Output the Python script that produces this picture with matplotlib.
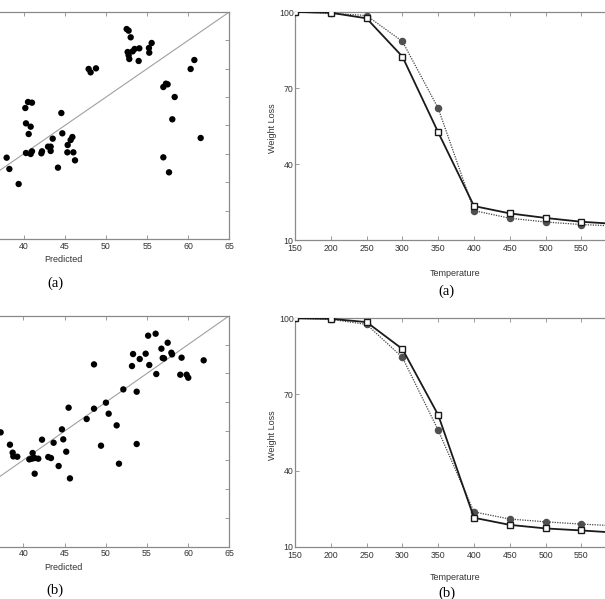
import matplotlib
matplotlib.use("Agg")
import matplotlib.pyplot as plt
import numpy as np

plt.rcParams['font.family'] = ['Liberation Sans', 'DejaVu Sans']

# ---------------- data ----------------
pred_a = [37.93, 38.26, 39.39, 40.20, 40.53, 41.01, 40.28, 40.85, 40.61, 40.28,
          40.85, 41.01, 42.15, 42.23, 42.96, 43.28, 43.28, 43.53, 44.58, 44.70,
          44.17, 45.35, 45.31, 45.71, 45.92, 46.04, 46.24, 47.90, 48.14, 48.79,
          52.52, 52.76, 53.01, 52.64, 52.76, 52.84, 53.25, 53.49, 54.06, 53.98,
          55.23, 55.27, 55.56, 56.98, 57.30, 57.50, 58.36, 58.07, 56.98, 57.67,
          60.30, 60.75, 61.52]
act_a = [39.33, 37.34, 34.69, 48.08, 49.14, 49.02, 45.38, 44.79, 43.50, 40.15,
         39.98, 40.45, 40.10, 40.45, 41.27, 41.27, 40.51, 42.68, 47.20, 43.62,
         37.57, 41.56, 40.27, 42.44, 42.97, 40.27, 38.86, 54.96, 54.37, 55.07,
         62.00, 61.71, 60.54, 57.95, 57.36, 56.72, 58.07, 58.48, 58.60, 56.37,
         58.66, 57.83, 59.54, 51.78, 52.37, 52.25, 50.02, 46.09, 39.39, 36.75,
         54.96, 56.54, 42.80]

pred_b = [37.25, 38.38, 38.71, 38.79, 39.27, 40.73, 41.05, 41.13, 41.38, 41.82,
          41.38, 42.27, 43.03, 43.36, 43.68, 44.29, 44.69, 44.85, 45.21, 45.50,
          45.66, 47.69, 48.58, 48.58, 49.43, 50.03, 50.36, 51.33, 51.61, 52.14,
          53.19, 53.32, 53.76, 53.76, 54.13, 54.85, 55.15, 55.29, 56.06, 56.14,
          56.76, 56.92, 57.08, 57.52, 57.97, 58.05, 59.05, 59.21, 59.82, 60.02,
          61.89]
act_b = [44.80, 42.66, 41.28, 40.64, 40.58, 40.12, 40.24, 41.22, 40.35, 40.24,
         37.64, 43.53, 40.53, 40.35, 43.00, 38.97, 45.32, 43.59, 41.45, 49.07,
         36.83, 47.11, 56.57, 48.90, 42.49, 49.94, 48.03, 46.01, 39.37, 52.24,
         56.28, 58.36, 51.84, 42.78, 57.50, 58.42, 61.54, 56.46, 61.88, 54.90,
         59.29, 57.67, 57.61, 60.32, 58.59, 58.30, 54.78, 57.73, 54.78, 54.26,
         57.27]

temperature = [150, 200, 250, 300, 350, 400, 450, 500, 550, 600]
exp_a = [100.0, 99.7, 97.5, 82.4, 52.5, 23.4, 20.5, 18.7, 17.2, 16.3]
model_a = [100.0, 99.5, 98.6, 88.4, 62.0, 21.6, 18.6, 17.1, 16.1, 15.5]
exp_b = [100.0, 99.8, 98.5, 87.9, 61.9, 21.4, 18.6, 17.2, 16.4, 15.5]
model_b = [100.0, 99.6, 97.6, 84.6, 55.9, 23.7, 20.9, 19.8, 18.9, 18.2]

scatter_xticks = [25, 30, 35, 40, 45, 50, 55, 60, 65]
scatter_xlabels = ['', '', '', '40', '45', '50', '55', '60', '65']
scatter_yticks = [25, 30, 35, 40, 45, 50, 55, 60, 65]
temp_xticks = [150, 200, 250, 300, 350, 400, 450, 500, 550, 600]
temp_xlabels = ['150', '200', '250', '300', '350', '400', '450', '500', '550', '']
wl_yticks = [10, 40, 70, 100]

W, H = 605, 599
fig = plt.figure(figsize=(W / 100, H / 100), dpi=100)

SPINE = '#8a8a8a'
TXT = '#333333'


def frac(left, top, right, bottom):
    return [left / W, 1 - bottom / H, (right - left) / W, (bottom - top) / H]


def style(ax):
    for s in ax.spines.values():
        s.set_color(SPINE)
        s.set_linewidth(0.9)
    ax.tick_params(direction='in', top=True, right=True, length=3, width=0.6,
                   color=SPINE, labelsize=6.3, labelcolor=TXT, pad=2)


def scatter_panel(rect, px, ay, label, label_y, tag_y):
    ax = fig.add_axes(rect)
    ax.plot([25, 65], [25, 65], color='#a0a0a0', lw=0.8, zorder=1)
    ax.scatter(px, ay, s=21, color='black', edgecolors='none', zorder=3)
    ax.set_xlim(25, 65)
    ax.set_ylim(25, 65)
    ax.set_xticks(scatter_xticks)
    ax.set_xticklabels(scatter_xlabels)
    ax.set_yticks(scatter_yticks)
    ax.set_yticklabels([])
    style(ax)
    fig.text(63 / W, 1 - label_y / H, 'Predicted', fontsize=6.5, color=TXT,
             ha='center', va='center')
    fig.text(55 / W, 1 - tag_y / H, label, fontsize=10.5, color='black',
             ha='center', va='center', family=['Liberation Serif', 'DejaVu Serif'])
    return ax


def line_panel(rect, ex, md, label, xl_y, tag_y, yl_y):
    ax = fig.add_axes(rect)
    ax.plot(temperature, md, color='#444444', lw=0.9, ls=(0, (1, 1)),
            marker='o', ms=4.4, mfc='#505050', mec='#505050', zorder=3)
    ax.plot(temperature, ex, color='#1a1a1a', lw=1.3, ls='-',
            marker='s', ms=4.2, mfc='white', mec='#1a1a1a', mew=1.0, zorder=4)
    ax.set_xlim(150, 600)
    ax.set_ylim(10, 100)
    ax.set_xticks(temp_xticks)
    ax.set_xticklabels(temp_xlabels)
    ax.set_yticks(wl_yticks)
    style(ax)
    ax.tick_params(axis='x', pad=3)
    ax.tick_params(axis='y', pad=1)
    fig.text(455 / W, 1 - xl_y / H, 'Temperature', fontsize=6.5, color=TXT,
             ha='center', va='center')
    fig.text(272.7 / W, 1 - yl_y / H, 'Weight Loss', fontsize=6.5, color=TXT,
             ha='center', va='center', rotation=90)
    fig.text(446.7 / W, 1 - tag_y / H, label, fontsize=10.5, color='black',
             ha='center', va='center', family=['Liberation Serif', 'DejaVu Serif'])
    return ax


scatter_panel(frac(-99.7, 12, 229.3, 239), pred_a, act_a, '(a)', 260, 283)
scatter_panel(frac(-100.3, 315.7, 229.3, 546.7), pred_b, act_b, '(b)', 567, 590)
line_panel(frac(295, 12, 617.2, 240), exp_a, model_a, '(a)', 273, 291, 128)
line_panel(frac(295, 318.3, 617.2, 546.7), exp_b, model_b, '(b)', 577.7, 593, 435)

fig.savefig('out.png', dpi=100, facecolor='white')
